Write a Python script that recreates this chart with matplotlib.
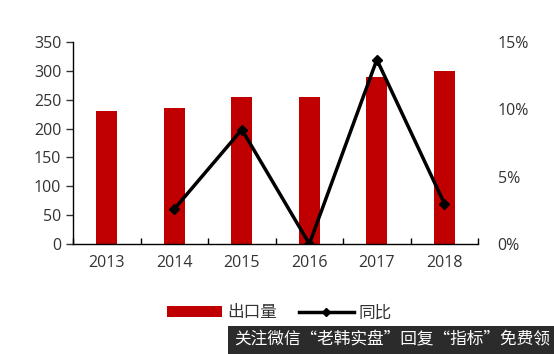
import numpy as np
import matplotlib
matplotlib.use("Agg")
import matplotlib.pyplot as plt

plt.rcParams['font.family'] = ['Open Sans', 'Noto Sans CJK SC', 'DejaVu Sans']

years = ['2013', '2014', '2015', '2016', '2017', '2018']
exports = [230, 235, 255, 255, 290, 300]
yoy_years = ['2014', '2015', '2016', '2017', '2018']
yoy = [2.6, 8.5, 0.0, 13.7, 3.0]

fig = plt.figure(figsize=(5.54, 3.54), dpi=100)
ax = fig.add_axes([0.132, 0.311, 0.731, 0.570])
x = np.arange(len(years))
ax.bar(x, exports, width=0.31, color='#C00000', label='出口量', zorder=2)
ax.set_xlim(-0.5, len(years) - 0.5)
ax.set_ylim(0, 350)
ax.set_yticks(range(0, 351, 50))
ax.set_xticks(x)
ax.set_xticklabels(years)
ax.set_xticks(np.arange(-0.5, len(years), 1), minor=True)
ax.tick_params(axis='x', which='major', length=0, pad=8)
ax.tick_params(axis='x', which='minor', direction='in', length=4, width=1)
ax.tick_params(axis='y', direction='out', length=5, width=1)
ax.tick_params(labelsize=11.5, colors='#333333')
for side in ['top', 'right']:
    ax.spines[side].set_visible(False)
for side in ['left', 'bottom']:
    ax.spines[side].set_color('black')
    ax.spines[side].set_linewidth(1)

ax2 = ax.twinx()
xi = [years.index(y) for y in yoy_years]
ax2.plot(xi, yoy, color='black', lw=2.5, marker='D', ms=5.5, label='同比', zorder=3)
ax2.set_ylim(0, 15)
ax2.set_yticks([0, 5, 10, 15])
ax2.set_yticklabels(['0%', '5%', '10%', '15%'])
ax2.tick_params(axis='y', length=0, pad=14, labelsize=11.5, colors='#333333')
for side in ['top', 'right', 'left', 'bottom']:
    ax2.spines[side].set_visible(False)

h1, l1 = ax.get_legend_handles_labels()
h2, l2 = ax2.get_legend_handles_labels()
leg = fig.legend(h1 + h2, l1 + l2, loc='center', bbox_to_anchor=(0.505, 0.115), ncol=2,
                 frameon=False, fontsize=12, handlelength=3.3, handleheight=0.6,
                 columnspacing=1.3, handletextpad=0.3, labelcolor='#333333',
                 markerscale=0.8)

# watermark strip
fig.text(0.993, 0.04, '关注微信“老韩实盘”回复“指标”免费领', ha='right', va='center',
         color='white', fontsize=12, family=['Noto Sans CJK SC'],
         bbox=dict(boxstyle='square,pad=0.35', fc='#2b2b2b', ec='none'))

fig.savefig('out.png', dpi=100)
